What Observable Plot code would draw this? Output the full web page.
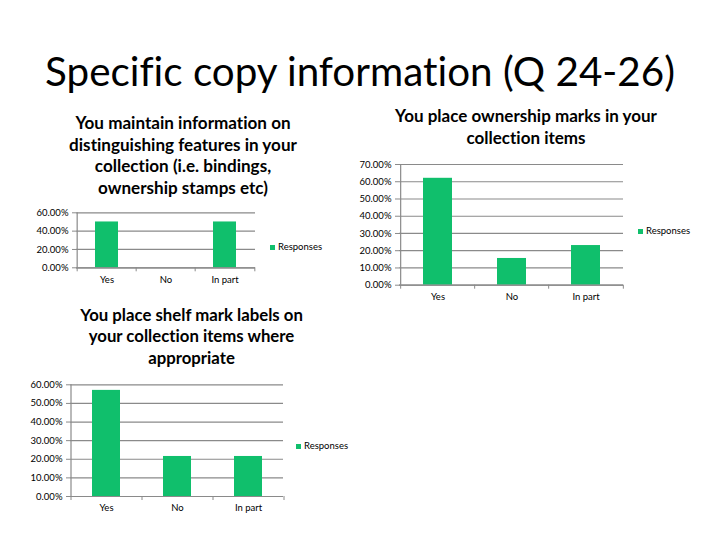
<!DOCTYPE html>
<html><head><meta charset="utf-8">
<script src="https://cdn.jsdelivr.net/npm/d3@7"></script>
<script src="https://cdn.jsdelivr.net/npm/@observablehq/plot@0.6"></script>
<style>
body{margin:0;background:#fff;}
#page{position:relative;width:720px;height:540px;overflow:hidden;font-family:Lato,"Open Sans",sans-serif;font-variant-ligatures:none;}
.ln{position:absolute;white-space:nowrap;line-height:1.2;color:#000;transform:translateX(-50%);font-variant-ligatures:none;}
.leg{position:absolute;font-size:9.5px;line-height:12px;display:flex;align-items:center;white-space:nowrap;}
.leg i{display:inline-block;width:5px;height:5px;background:#10bf6c;margin-right:3px;}
.chart{position:absolute;}
</style></head>
<body><div id="page"></div>
<script>
const categories = ["Yes", "No", "In part"];
const maintainValues = [50, 0, 50];
const ownershipValues = [62, 15.5, 23];
const shelfValues = [57, 21.5, 21.5];
const maintainTicks = [0, 20, 40, 60];
const ownershipTicks = [0, 10, 20, 30, 40, 50, 60, 70];
const shelfTicks = [0, 10, 20, 30, 40, 50, 60];
const seriesName = "Responses";
const mainTitle = "Specific copy information (Q 24-26)";
const maintainTitle = ["You maintain information on", "distinguishing features in your", "collection (i.e. bindings,", "ownership stamps etc)"];
const ownershipTitle = ["You place ownership marks in your", "collection items"];
const shelfTitle = ["You place shelf mark labels on", "your collection items where", "appropriate"];

const GREEN = "#10bf6c", GRID = "#8a8a8a";
const page = document.getElementById("page");

function addLines(lines, cx, baselines, targetW, weight) {
  const divs = lines.map((t, i) => {
    const d = document.createElement("div");
    d.className = "ln"; d.textContent = t;
    d.style.fontWeight = weight; d.style.fontSize = "20px";
    d.style.left = cx + "px";
    page.appendChild(d);
    return d;
  });
  const maxW = Math.max(...divs.map(d => d.getBoundingClientRect().width));
  const fs = 20 * targetW / maxW;
  divs.forEach((d, i) => {
    d.style.fontSize = fs + "px";
    d.style.top = (baselines[i] - 0.987 * fs) + "px";
  });
}

function addLegend(x, y) {
  const d = document.createElement("div");
  d.className = "leg";
  d.style.left = x + "px"; d.style.top = y + "px";
  d.innerHTML = "<i></i>";
  d.appendChild(document.createTextNode(seriesName));
  page.appendChild(d);
}

function chart({values, ticks, left, top, width, height, mL, mR, mT, mB}) {
  const data = categories.map((c, i) => ({cat: c, v: values[i]}));
  const step = (width - mL - mR) / categories.length;
  const maxY = ticks[ticks.length - 1];
  const p = 0.61;
  const svg = Plot.plot({
    width, height,
    marginLeft: mL, marginRight: mR, marginTop: mT, marginBottom: mB,
    style: {fontFamily: "Lato, sans-serif", fontSize: "9.5px", background: "transparent", overflow: "visible"},
    x: {domain: categories, paddingInner: p, paddingOuter: p / 2, label: null},
    y: {domain: [0, maxY], label: null},
    marks: [
      Plot.gridY(ticks, {stroke: GRID, strokeOpacity: 1, strokeWidth: 1.2}),
      Plot.barY(data, {x: "cat", y: "v", fill: GREEN}),
      Plot.ruleY([0], {stroke: GRID, strokeWidth: 1.2}),
      Plot.ruleX([categories[0]], {y1: 0, y2: maxY, dx: -step / 2, stroke: GRID, strokeWidth: 1.2}),
      Plot.ruleX(categories, {y1: 0, y2: 0, dx: -step / 2, insetBottom: -4, stroke: GRID}),
      Plot.ruleX([categories[categories.length - 1]], {y1: 0, y2: 0, dx: step / 2, insetBottom: -4, stroke: GRID}),
      Plot.axisY({ticks, tickSize: 4, tickPadding: 4, stroke: GRID, fill: "black", tickFormat: d => d.toFixed(2) + "%", label: null}),
      Plot.axisX({tickSize: 0, tickPadding: 8, fill: "black", label: null})
    ]
  });
  svg.classList.add("chart");
  svg.style.left = left + "px"; svg.style.top = top + "px";
  page.appendChild(svg);
}

document.fonts.ready.then(() => {
  addLines([mainTitle], 360, [86.7], 630, 400);
  addLines(maintainTitle, 183, [130, 151.6, 173.2, 194.8], 228, 700);
  addLines(ownershipTitle, 526, [123.3, 145], 262, 700);
  addLines(shelfTitle, 191.5, [321.7, 343, 364.5], 223, 700);

  chart({values: maintainValues, ticks: maintainTicks, left: 0, top: 200, width: 300, height: 100, mL: 76, mR: 45, mT: 12.3, mB: 32.7});
  chart({values: ownershipValues, ticks: ownershipTicks, left: 340, top: 150, width: 300, height: 160, mL: 59, mR: 17, mT: 14, mB: 25.3});
  chart({values: shelfValues, ticks: shelfTicks, left: 0, top: 370, width: 300, height: 150, mL: 70, mR: 17, mT: 14.3, mB: 24});

  addLegend(270, 241);
  addLegend(638, 225);
  addLegend(296, 440);
});
</script>
</body></html>
